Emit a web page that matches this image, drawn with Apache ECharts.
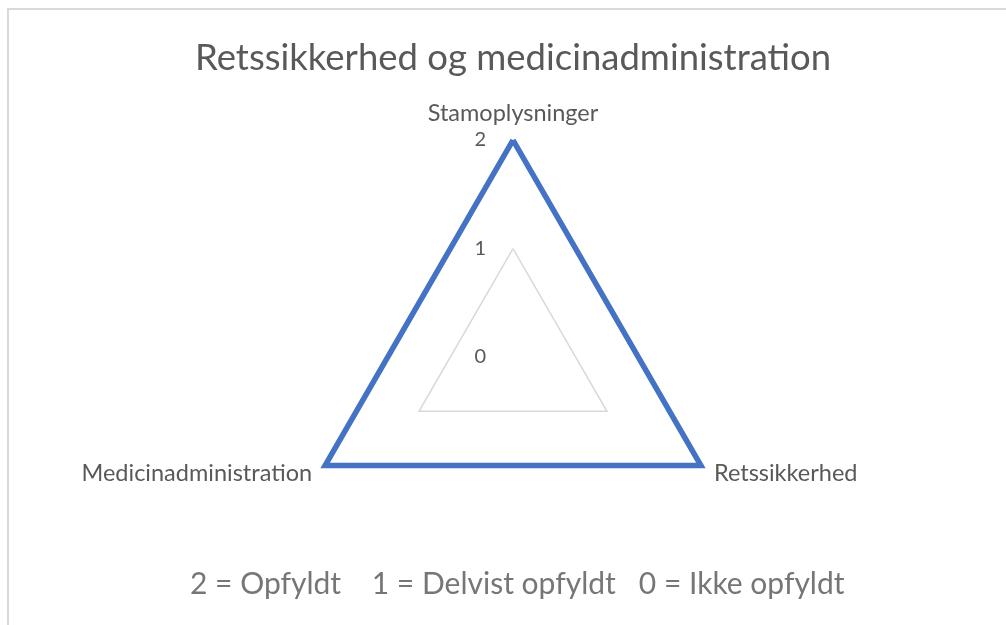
<!DOCTYPE html>
<html><head><meta charset="utf-8">
<script src="https://cdn.jsdelivr.net/npm/echarts@6/dist/echarts.min.js"></script>
<style>
html,body{margin:0;padding:0;background:#fff;}
#frame{position:absolute;left:7px;top:8px;width:1100px;height:700px;border:2px solid #d9d9d9;box-sizing:border-box;}
#c{position:absolute;left:0;top:0;width:1006px;height:625px;}
</style></head><body>
<div id="frame"></div>
<div id="c"></div>
<script>
const titleText = 'Retssikkerhed og medicinadministration';
const noteText = '2 = Opfyldt    1 = Delvist opfyldt   0 = Ikke opfyldt';
const categories = ['Stamoplysninger', 'Medicinadministration', 'Retssikkerhed'];
const values = [2, 2, 2];
const maxValue = 2;
const tickLabels = ['0', '1', '2'];

const FONT = 'Lato';
const GRAY = '#595959';
const chart = echarts.init(document.getElementById('c'), null, {renderer:'canvas'});
chart.setOption({
  backgroundColor: 'transparent',
  animation: false,
  title: [
    {text: titleText, left: 190, top: 35, textStyle:{fontFamily:FONT, fontSize:36.5, fontWeight:'normal', color:GRAY}},
    {text: noteText, left: 185, top: 564, textStyle:{fontFamily:FONT, fontSize:30, fontWeight:'normal', color:'#767676'}}
  ],
  grid: {left: 513, top: 140, width: 1, bottom: 625 - 357},
  xAxis: {type: 'value', show: false},
  yAxis: {
    type: 'category', data: tickLabels, boundaryGap: false,
    axisLine:{show:false}, axisTick:{show:false}, splitLine:{show:false},
    axisLabel:{margin: 27, color: GRAY, fontFamily: FONT, fontSize: 20}
  },
  radar: {
    center: [513, 357], radius: 217, startAngle: 90,
    splitNumber: 2, shape: 'polygon',
    indicator: categories.map(n => ({name: n, min: 0, max: maxValue})),
    axisName: {color: GRAY, fontFamily: FONT, fontSize: 23.5},
    nameGap: 15,
    axisLine: {show: false}, axisTick:{show:false}, axisLabel:{show:false},
    splitArea: {show: false},
    splitLine: {lineStyle: {color: '#d9d9d9', width: 1.5}}
  },
  series: [{
    type: 'radar', symbol: 'none',
    lineStyle: {color: '#4472C4', width: 5.5, join: 'miter'},
    data: [{value: values, name: 'Score'}]
  }]
});
</script>
</body></html>
